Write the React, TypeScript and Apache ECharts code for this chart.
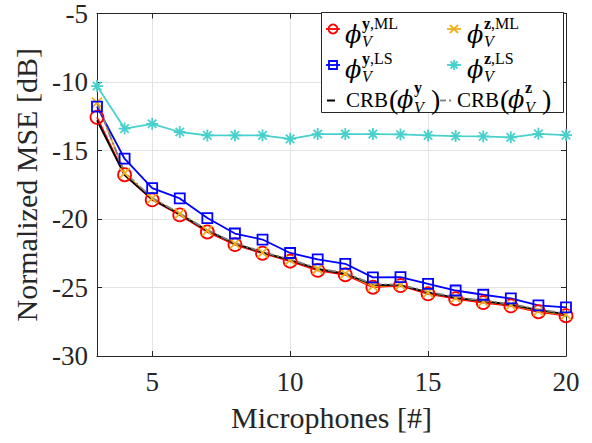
import React, { useEffect, useRef } from "react";
import * as echarts from "echarts";

const FONT = '"Liberation Serif", "Times New Roman", serif';
const PHI_FONT = '"DejaVu Serif", "Liberation Serif", serif';

const MICS = [3, 4, 5, 6, 7, 8, 9, 10, 11, 12, 13, 14, 15, 16, 17, 18, 19, 20];
const ML_Y = [-12.58, -16.77, -18.6, -19.7, -20.95, -21.87, -22.5, -23.08, -23.75, -24.07, -24.98, -24.86, -25.46, -25.82, -26.1, -26.34, -26.77, -27.06];
const ML_Z = [-11.5, -16.65, -18.5, -19.6, -20.85, -21.8, -22.45, -22.98, -23.65, -23.98, -24.9, -24.8, -25.38, -25.75, -26.02, -26.27, -26.7, -26.98];
const LS_Y = [-11.8, -15.6, -17.75, -18.5, -19.93, -21.06, -21.5, -22.48, -22.95, -23.27, -24.26, -24.24, -24.74, -25.22, -25.53, -25.8, -26.3, -26.45];
const LS_Z = [-10.3, -13.4, -13.05, -13.65, -13.9, -13.9, -13.9, -14.15, -13.8, -13.8, -13.8, -13.83, -13.9, -13.95, -13.97, -14.04, -13.78, -13.88];
const CRB_Y = [-12.8, -16.8, -18.55, -19.65, -20.85, -21.8, -22.45, -23.0, -23.65, -24.0, -24.8, -24.85, -25.35, -25.75, -26.0, -26.25, -26.65, -26.95];
const CRB_Z = [-11.5, -16.6, -18.45, -19.6, -20.8, -21.75, -22.4, -22.95, -23.6, -23.95, -24.75, -24.8, -25.3, -25.7, -25.95, -26.2, -26.6, -26.9];

const X_TICKS = [5, 10, 15, 20];

const RED = "#ff0000";
const BLUE = "#0000ff";
const ORANGE = "#EDB120";
const CYAN = "#48D1CC";
const BLACK = "#000000";
const GRAY = "#808080";
const AXIS = "#262626";

const X_SYMBOL = "path://M0,0L10,10M10,0L0,10";
const STAR_SYMBOL = "path://M5,0L5,10M0,5L10,5M1.5,1.5L8.5,8.5M8.5,1.5L1.5,8.5";

function pairs(vals: number[]) {
  return MICS.map((x, i) => [x, vals[i]]);
}

function lineSeries(name: string, vals: number[], color: string, symbol: string, size: number, dash?: any) {
  return {
    name,
    type: "line",
    data: pairs(vals),
    symbol,
    symbolSize: size,
    showSymbol: symbol !== "none",
    showAllSymbol: true,
    lineStyle: { color, width: 1.8, type: dash || "solid" },
    itemStyle: { color: "rgba(0,0,0,0)", borderColor: color, borderWidth: 1.8 },
    emphasis: { disabled: true },
  };
}

function legendGraphics() {
  const els: any[] = [];
  const T = (x: number, y: number, text: string, font: string) =>
    els.push({ type: "text", x, y, style: { text, font, fill: "#000", verticalAlign: "middle", align: "left" }, z: 103 });
  els.push({
    type: "rect",
    shape: { x: 321.5, y: 12.5, width: 242, height: 100 },
    style: { fill: "#ffffff", stroke: AXIS, lineWidth: 1 },
    z: 100,
  });
  const marker = (mx: number, my: number, color: string, kind: string) => {
    els.push({ type: "line", shape: { x1: mx - 7, y1: my, x2: mx + 7, y2: my }, style: { stroke: color, lineWidth: 1.8 }, z: 101 });
    if (kind === "circle") {
      els.push({ type: "circle", shape: { cx: mx, cy: my, r: 4.5 }, style: { fill: "none", stroke: color, lineWidth: 1.8 }, z: 102 });
    } else if (kind === "rect") {
      els.push({ type: "rect", shape: { x: mx - 4, y: my - 4, width: 8, height: 8 }, style: { fill: "none", stroke: color, lineWidth: 1.8 }, z: 102 });
    } else if (kind === "x") {
      els.push({ type: "line", shape: { x1: mx - 4, y1: my - 4, x2: mx + 4, y2: my + 4 }, style: { stroke: color, lineWidth: 1.8 }, z: 102 });
      els.push({ type: "line", shape: { x1: mx + 4, y1: my - 4, x2: mx - 4, y2: my + 4 }, style: { stroke: color, lineWidth: 1.8 }, z: 102 });
    } else if (kind === "star") {
      const r = 5, d = 3.5;
      [[0, -r, 0, r], [-r, 0, r, 0], [-d, -d, d, d], [d, -d, -d, d]].forEach((s) => {
        els.push({ type: "line", shape: { x1: mx + s[0], y1: my + s[1], x2: mx + s[2], y2: my + s[3] }, style: { stroke: color, lineWidth: 1.8 }, z: 102 });
      });
    }
  };
  const phi = (px: number, py: number, bold: string, rest: string) => {
    T(px, py, "ϕ", `italic 24px ${PHI_FONT}`);
    els.push({
      type: "text", x: px + 17, y: py - 12,
      style: {
        text: `{b|${bold}}{n|${rest}}`, verticalAlign: "middle", align: "left", fill: "#000",
        rich: { b: { fontWeight: "bold", fontSize: 16, fontFamily: FONT, fill: "#000" }, n: { fontSize: 16, fontFamily: FONT, fill: "#000" } },
      },
      z: 103,
    });
    T(px + 17, py + 6, "V", `italic 16px ${FONT}`);
  };
  // row 1
  marker(333, 29, RED, "circle");
  phi(345, 35, "y", ",ML");
  marker(454, 29, ORANGE, "x");
  phi(467, 35, "z", ",ML");
  // row 2
  marker(333, 65, BLUE, "rect");
  phi(345, 70, "y", ",LS");
  marker(454, 65, CYAN, "star");
  phi(467, 70, "z", ",LS");
  // row 3
  els.push({ type: "line", shape: { x1: 327, y1: 100.5, x2: 335, y2: 100.5 }, style: { stroke: BLACK, lineWidth: 2 }, z: 101 });
  els.push({ type: "line", shape: { x1: 440, y1: 100.5, x2: 446, y2: 100.5 }, style: { stroke: GRAY, lineWidth: 1.8 }, z: 101 });
  els.push({ type: "line", shape: { x1: 449, y1: 100.5, x2: 451, y2: 100.5 }, style: { stroke: GRAY, lineWidth: 1.8 }, z: 101 });
  const crb = (x0: number, letter: string) => {
    T(x0, 100, "CRB", `21px ${FONT}`);
    T(x0 + 43, 99, "(", `28px ${FONT}`);
    T(x0 + 51, 100, "ϕ", `italic 24px ${PHI_FONT}`);
    T(x0 + 68, 87, letter, `bold 16px ${FONT}`);
    T(x0 + 68, 107, "V", `italic 16px ${FONT}`);
    T(x0 + 85, 99, ")", `28px ${FONT}`);
  };
  crb(346, "y");
  crb(457, "z");
  return els;
}

export default function App() {
  const ref = useRef<HTMLDivElement>(null);
  useEffect(() => {
    if (!ref.current) return;
    const chart = echarts.init(ref.current, undefined, { renderer: "svg" });
    const axisCommon = {
      axisLine: { show: true, onZero: false, lineStyle: { color: AXIS, width: 1 } },
      axisTick: { show: true, inside: true, length: 5, lineStyle: { color: AXIS, width: 1 } },
    };
    chart.setOption({
      animation: false,
      backgroundColor: "#ffffff",
      grid: { left: 97, right: 26, top: 10, bottom: 87, containLabel: false },
      xAxis: [
        {
          type: "value", min: 3, max: 20, position: "bottom",
          name: "Microphones [#]", nameLocation: "middle", nameGap: 46,
          nameTextStyle: { fontSize: 30, fontFamily: FONT, color: AXIS },
          ...axisCommon,
          axisTick: { ...axisCommon.axisTick, customValues: X_TICKS },
          axisLabel: { customValues: X_TICKS, fontSize: 27, fontFamily: FONT, color: AXIS, margin: 12 },
          splitLine: { show: true, lineStyle: { color: "#e3e3e3", width: 1 } },
        },
        {
          type: "value", min: 3, max: 20, position: "top",
          ...axisCommon,
          axisTick: { ...axisCommon.axisTick, customValues: X_TICKS },
          axisLabel: { show: false },
          splitLine: { show: false },
        },
      ],
      yAxis: [
        {
          type: "value", min: -30, max: -5, interval: 5, position: "left",
          name: "Normalized MSE [dB]", nameLocation: "middle", nameGap: 55,
          nameTextStyle: { fontSize: 30, fontFamily: FONT, color: AXIS },
          ...axisCommon,
          axisLabel: { fontSize: 27, fontFamily: FONT, color: AXIS, margin: 9 },
          splitLine: { show: true, lineStyle: { color: "#e3e3e3", width: 1 } },
        },
        {
          type: "value", min: -30, max: -5, interval: 5, position: "right",
          ...axisCommon,
          axisLabel: { show: false },
          splitLine: { show: false },
        },
      ],
      series: [
        lineSeries("ML y", ML_Y, RED, "circle", 13),
        lineSeries("ML z", ML_Z, ORANGE, X_SYMBOL, 10),
        lineSeries("LS y", LS_Y, BLUE, "rect", 10),
        lineSeries("LS z", LS_Z, CYAN, STAR_SYMBOL, 12),
        lineSeries("CRB y", CRB_Y, BLACK, "none", 0),
        lineSeries("CRB z", CRB_Z, GRAY, "none", 0, [8, 3, 2, 3]),
      ],
      graphic: legendGraphics(),
    });
    return () => chart.dispose();
  }, []);
  return <div ref={ref} style={{ position: "fixed", left: 0, top: 0, width: 592, height: 443 }} />;
}
